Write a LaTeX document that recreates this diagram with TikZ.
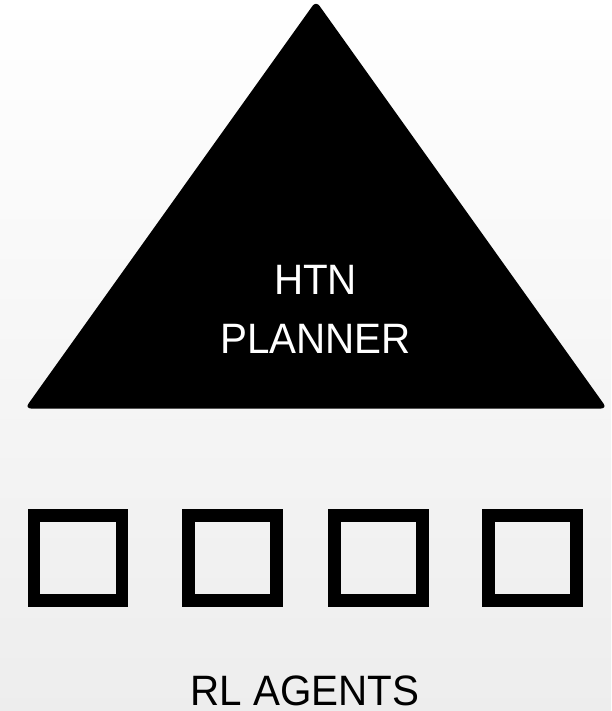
\documentclass[tikz,border=0pt]{standalone}
\usepackage{fontspec}
\setmainfont{Liberation Sans}[FakeStretch=0.95]
\begin{document}
\begin{tikzpicture}[x=1pt,y=-1pt,
  label text/.style={inner sep=0pt,font=\fontsize{42.5}{59}\selectfont,align=center},
  agentbox/.style={draw=black,line width=12.7pt,fill=none,inner sep=0pt,
    minimum width=87.8pt,minimum height=85.3pt}]
  % page with a soft vertical shading
  \shade[top color=white,bottom color=black!7] (0,0) rectangle (611,711);
  \useasboundingbox (0,0) rectangle (611,711);
  % planner triangle
  \fill[black,rounded corners=6pt] (25,408.5) -- (316,1) -- (607,408.5) -- cycle;
  % the base anchor of a two-line node sits on its last line
  \node[label text,text=white,anchor=base] (planner) at (315.5,353) {HTN\\PLANNER};
  % agent boxes
  \node[agentbox] (a1) at (78,558) {};
  \node[agentbox] (a2) at (232.5,558) {};
  \node[agentbox] (a3) at (378.5,558) {};
  \node[agentbox] (a4) at (532.5,558) {};
  \node[label text,text depth=0pt,anchor=base] (agents) at (305,705) {RL AGENTS};
\end{tikzpicture}
\end{document}
